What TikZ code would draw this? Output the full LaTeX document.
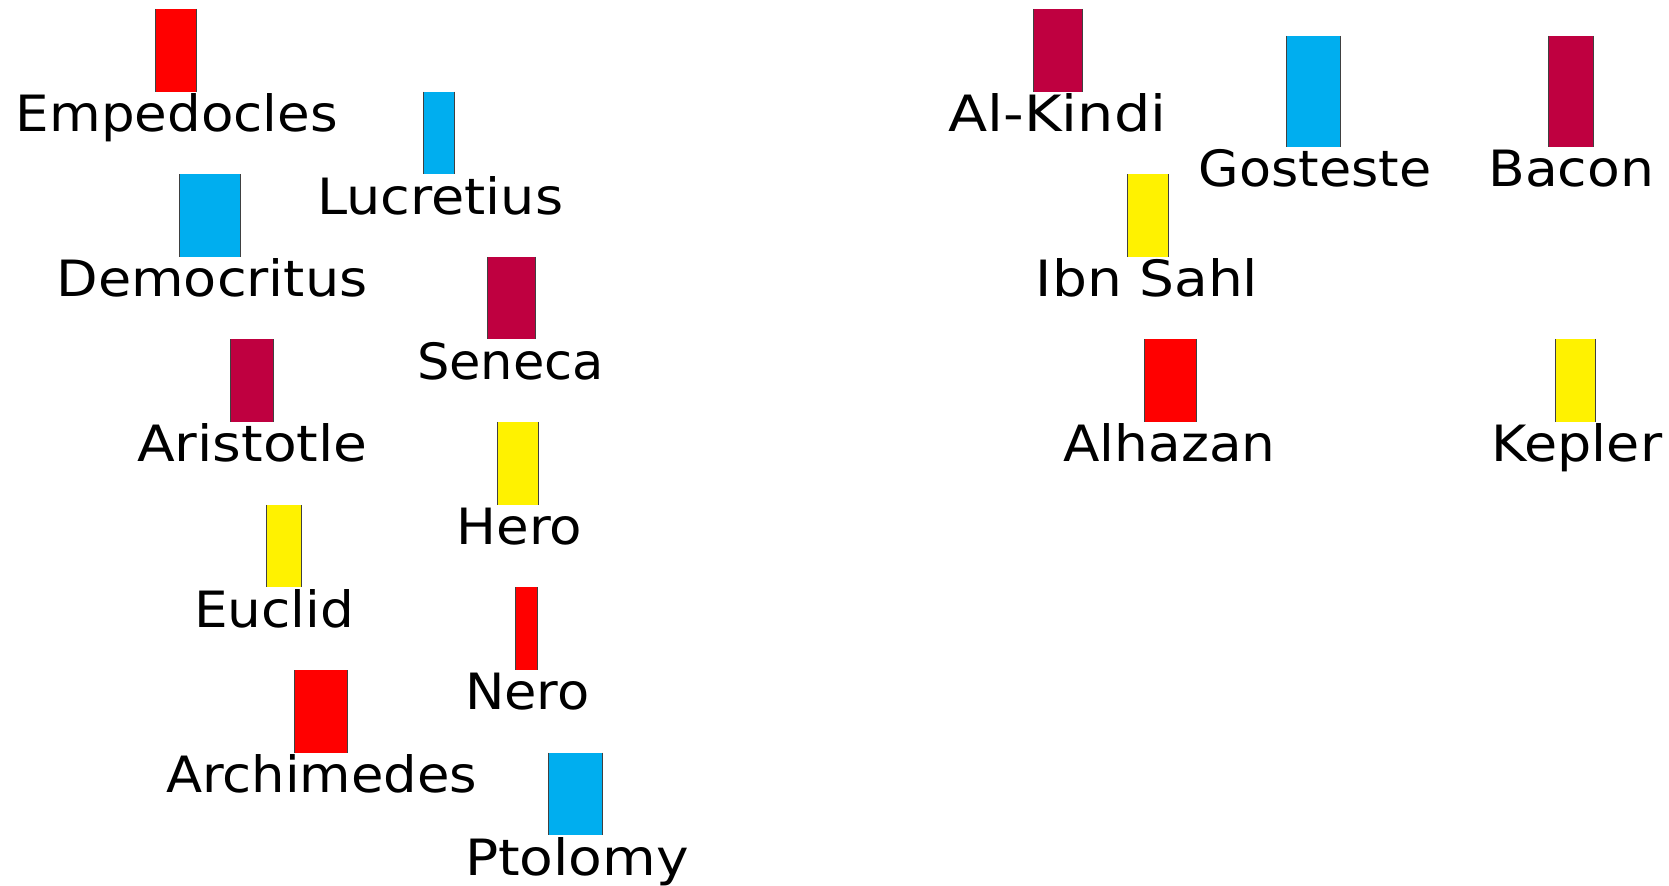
\documentclass[tikz,border=0pt]{standalone}
\usepackage{fontspec}
\setmainfont{DejaVu Sans}
\usepackage{graphicx}
\definecolor{cred}{HTML}{FF0000}
\definecolor{ccyan}{HTML}{00AEEF}
\definecolor{cpurple}{HTML}{BF0040}
\definecolor{cyellow}{HTML}{FFF200}
\tikzset{
  bar/.style={draw=none, inner sep=0pt, outer sep=0pt, anchor=north west},
  edge/.style={draw=black!75, line width=0.5pt},
  lab/.style={inner sep=0pt, outer sep=0pt, anchor=base, font=\fontsize{25}{30}\selectfont}
}
% #1 name, #2 x1, #3 x2, #4 ytop, #5 ybot, #6 colour, #7 label centre x, #8 label width (pt), #9 text
\newcommand\philbar[9]{%
  \node[bar, fill=#6, minimum width={(#3-#2)*0.5pt}, minimum height={(#5-#4)*0.5pt}] (#1b) at (#2,#4) {};
  \draw[edge] (#1b.north west) -- (#1b.south west) (#1b.north east) -- (#1b.south east);
  \node[lab] (#1) at (#7,#5+40) {\resizebox{#8pt}{\height}{#9}};
}
\begin{document}
\begin{tikzpicture}[x=0.5pt,y=-0.5pt]
\useasboundingbox (0,0) rectangle (1669,886);
\philbar{emp}{155}{196.7}{9}{91.7}{cred}{177}{161}{Empedocles}
\philbar{luc}{423.3}{454}{91.7}{174.3}{ccyan}{440.3}{123}{Lucretius}
\philbar{dem}{179}{240.7}{174.3}{257}{ccyan}{212}{155.5}{Democritus}
\philbar{sen}{487.7}{535.7}{257}{339.5}{cpurple}{510.5}{93.5}{Seneca}
\philbar{ari}{230}{273.3}{339.5}{422}{cpurple}{252.5}{115.3}{Aristotle}
\philbar{her}{497.3}{538.7}{422}{504.8}{cyellow}{519.5}{62.8}{Hero}
\philbar{euc}{266.7}{301.7}{504.8}{587.3}{cyellow}{274.2}{80}{Euclid}
\philbar{ner}{515.3}{537.3}{587.3}{670}{cred}{527.3}{62.3}{Nero}
\philbar{arc}{294.3}{347.7}{670}{752.5}{cred}{321.7}{155.6}{Archimedes}
\philbar{pto}{548.3}{602.7}{752.5}{835.2}{ccyan}{577}{112}{Ptolomy}
\philbar{alk}{1033.3}{1082.7}{9}{91.7}{cpurple}{1057.5}{108.8}{Al-Kindi}
\philbar{gos}{1286.7}{1340.3}{36}{146.7}{ccyan}{1315}{116.3}{Gosteste}
\philbar{bac}{1548.3}{1593}{36}{146.7}{cpurple}{1571.2}{82.8}{Bacon}
\philbar{ibn}{1127.7}{1168.7}{174.3}{257}{cyellow}{1147}{111.2}{Ibn Sahl}
\philbar{alh}{1144.3}{1196}{339.5}{422}{cred}{1169.5}{106}{Alhazan}
\philbar{kep}{1555.3}{1595.3}{339.5}{422}{cyellow}{1577}{85.2}{Kepler}
\end{tikzpicture}
\end{document}
